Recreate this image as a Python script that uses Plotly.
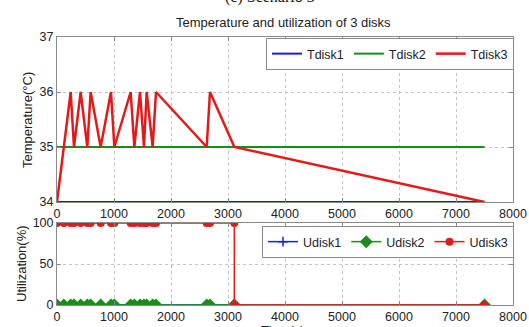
import plotly.graph_objects as go

# Temperature trace vertices (time in s, temperature in °C)
time_s = [0, 240, 298, 415, 532, 590, 766, 947, 1006, 1292, 1357, 1456,
          1526, 1573, 1678, 1737, 2626, 2684, 3111, 7500]
tdisk3 = [34, 36, 35, 36, 35, 36, 35, 36, 35, 36, 35, 36,
          35, 36, 35, 36, 35, 36, 35, 34]
flat_time = [0, 7500]
tdisk1 = [34, 34]
tdisk2 = [35, 35]

# Utilization samples (%)
util_time = [0, 120, 240, 298, 415, 532, 590, 766, 947, 1006, 1292, 1357, 1456,
             1526, 1573, 1678, 1737, 2626, 2684, 3111, 3111, 7500]
udisk1 = [0, 0, 0, 0, 0, 0, 0, 0, 0, 0, 0, 0, 0, 0, 0, 0, 0, 0, 0, 0, 0, 0]
udisk2 = [0, 0, 0, 0, 0, 0, 0, 0, 0, 0, 0, 0, 0, 0, 0, 0, 0, 0, 0, 0, 0, 0]
udisk3 = [100, 100, 100, 100, 100, 100, 100, 100, 100, 100, 100, 100, 100,
          100, 100, 100, 100, 100, 100, 100, 0, 0]

x_ticks = [0, 1000, 2000, 3000, 4000, 5000, 6000, 7000, 8000]
t_ticks = [34, 35, 36, 37]
u_ticks = [0, 50, 100]

BLUE = "#1c1ce0"
GREEN = "#1a8c1a"
RED = "#e41a1a"
FONT = "Liberation Sans, Arial, sans-serif"
W, H = 529, 327

fig = go.Figure()

fig.add_trace(go.Scatter(x=flat_time, y=tdisk1, mode="lines", name="Tdisk1",
                         line=dict(color=BLUE, width=2), xaxis="x", yaxis="y",
                         legend="legend"))
fig.add_trace(go.Scatter(x=flat_time, y=tdisk2, mode="lines", name="Tdisk2",
                         line=dict(color=GREEN, width=2), xaxis="x", yaxis="y",
                         legend="legend"))
fig.add_trace(go.Scatter(x=time_s, y=tdisk3, mode="lines", name="Tdisk3",
                         line=dict(color=RED, width=2.5), xaxis="x", yaxis="y",
                         legend="legend"))

fig.add_trace(go.Scatter(x=util_time, y=udisk1, mode="lines+markers", name="Udisk1",
                         line=dict(color=BLUE, width=1.5),
                         marker=dict(symbol="cross-thin", size=7,
                                     line=dict(color=BLUE, width=1.5)),
                         xaxis="x2", yaxis="y2", legend="legend2"))
fig.add_trace(go.Scatter(x=util_time, y=udisk2, mode="lines+markers", name="Udisk2",
                         line=dict(color=GREEN, width=1.5),
                         marker=dict(symbol="diamond", size=10, color=GREEN),
                         xaxis="x2", yaxis="y2", legend="legend2"))
fig.add_trace(go.Scatter(x=util_time, y=udisk3, mode="lines+markers", name="Udisk3",
                         line=dict(color=RED, width=1.5),
                         marker=dict(symbol="circle", size=8, color=RED),
                         xaxis="x2", yaxis="y2", legend="legend2"))


def px_x(p):
    return p / W


def px_y(p):
    return 1 - p / H


common_axis = dict(
    showline=True, linecolor="#8a8a8a", linewidth=1, mirror="ticks",
    ticks="inside", ticklen=4, tickcolor="#8a8a8a",
    showgrid=True, gridcolor="#c4c4c4", griddash="dot", gridwidth=1,
    zeroline=False, automargin=False,
    tickfont=dict(family=FONT, size=12.5, color="#222"),
)

xdom = [px_x(57), px_x(513)]

legend_style = dict(orientation="h", xanchor="right", yanchor="top",
                    bgcolor="white", bordercolor="#8a8a8a", borderwidth=1,
                    font=dict(family=FONT, size=12.5, color="#222"),
                    itemwidth=30, tracegroupgap=0)

fig.update_layout(
    template="none",
    width=W, height=H, autosize=False,
    margin=dict(l=0, r=0, t=0, b=0, pad=0, autoexpand=False),
    paper_bgcolor="white", plot_bgcolor="white",
    font=dict(family=FONT, color="#222"),
    xaxis=dict(domain=xdom, anchor="y", range=[0, 8000], tickvals=x_ticks,
               **common_axis),
    yaxis=dict(domain=[px_y(202), px_y(37)], anchor="x", range=[34, 37],
               tickvals=t_ticks, **common_axis),
    xaxis2=dict(domain=xdom, anchor="y2", range=[0, 8000], tickvals=x_ticks,
                **common_axis),
    yaxis2=dict(domain=[px_y(305), px_y(223)], anchor="x2", range=[0, 100],
                tickvals=u_ticks, **common_axis),
    legend=dict(x=px_x(514), y=px_y(38), **legend_style),
    legend2=dict(x=px_x(514), y=px_y(226), **legend_style),
    showlegend=True,
)

fig.add_annotation(text="Temperature and utilization of 3 disks",
                   xref="paper", yref="paper", x=px_x(283), y=px_y(23),
                   xanchor="center", yanchor="middle", showarrow=False,
                   font=dict(family=FONT, size=13, color="#222"))
fig.add_annotation(text="(c) Scenario 3",
                   xref="paper", yref="paper", x=px_x(270), y=px_y(-3),
                   xanchor="center", yanchor="middle", showarrow=False,
                   font=dict(family="Liberation Serif, Times New Roman, serif",
                             size=16, color="#111"))
fig.add_annotation(text="Temperature(°C)",
                   xref="paper", yref="paper", x=px_x(27), y=px_y(120),
                   xanchor="center", yanchor="middle", textangle=-90,
                   showarrow=False,
                   font=dict(family=FONT, size=13, color="#222"))
fig.add_annotation(text="Utilization(%)",
                   xref="paper", yref="paper", x=px_x(21), y=px_y(264),
                   xanchor="center", yanchor="middle", textangle=-90,
                   showarrow=False,
                   font=dict(family=FONT, size=13, color="#222"))
fig.add_annotation(text="Time(s)",
                   xref="paper", yref="paper", x=px_x(283), y=px_y(321),
                   xanchor="center", yanchor="top", showarrow=False,
                   font=dict(family=FONT, size=13, color="#222"))

fig.write_html(
    "out.html",
    post_script="document.body.style.margin='0';document.body.style.overflow='hidden';",
)
